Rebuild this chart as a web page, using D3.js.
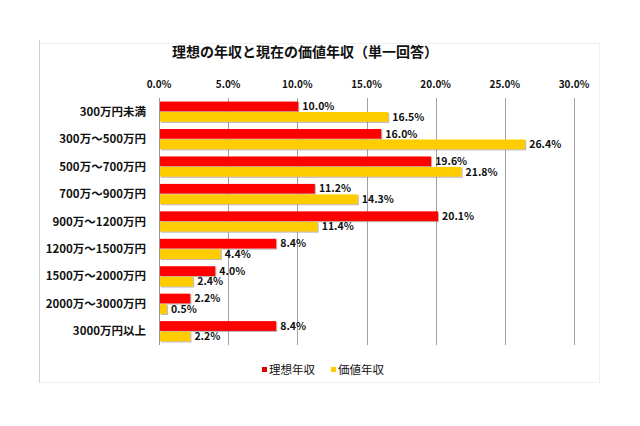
<!DOCTYPE html>
<html>
<head>
<meta charset="utf-8">
<script src="https://cdn.jsdelivr.net/npm/d3@7"></script>
<style>
  body { margin: 0; background: #fff; }
  svg { display: block; font-family: "Noto Sans CJK JP", "Noto Sans", sans-serif; }
</style>
</head>
<body>
<svg id="chart" width="640" height="426"></svg>
<script>
// income bands and the two series (percent)
const categories = ['300万円未満', '300万～500万円', '500万～700万円', '700万～900万円',
  '900万～1200万円', '1200万～1500万円', '1500万～2000万円', '2000万～3000万円', '3000万円以上'];
const idealIncome = [10.0, 16.0, 19.6, 11.2, 20.1, 8.4, 4.0, 2.2, 8.4];
const valueIncome = [16.5, 26.4, 21.8, 14.3, 11.4, 4.4, 2.4, 0.5, 2.2];
const xTicks = [0, 5, 10, 15, 20, 25, 30];
const seriesNames = ['理想年収', '価値年収'];
const colors = ['#ff0000', '#ffcc00'];

const svg = d3.select('#chart');

// frame
svg.append('rect')
   .attr('x', 39.5).attr('y', 43.5)
   .attr('width', 560).attr('height', 339)
   .attr('fill', 'none')
   .attr('stroke', '#f0f0f0');
svg.append('line')
   .attr('x1', 39.5).attr('x2', 39.5)
   .attr('y1', 40).attr('y2', 383)
   .attr('stroke', '#d0d0d0');

const defs = svg.append('defs');
defs.append('filter')
   .attr('id', 'shadow')
   .attr('x', '-5%').attr('y', '-20%')
   .attr('width', '110%').attr('height', '160%')
   .append('feDropShadow')
   .attr('dx', 1).attr('dy', 1)
   .attr('stdDeviation', 0.7)
   .attr('flood-color', '#888')
   .attr('flood-opacity', 0.6);

const x = d3.scaleLinear().domain([0, 30]).range([159, 574]);
const y = d3.scaleBand().domain(categories).range([98, 345])
   .paddingInner(0.26).paddingOuter(0.13);
const sub = d3.scaleBand().domain([0, 1]).range([0, y.bandwidth()]).paddingInner(0.06);

// title
svg.append('text')
   .attr('x', 305).attr('y', 57)
   .attr('text-anchor', 'middle')
   .attr('font-size', '14px')
   .attr('font-weight', 'bold')
   .attr('fill', '#111')
   .text('理想の年収と現在の価値年収（単一回答）');

// grid lines
svg.append('g')
   .selectAll('line')
   .data(xTicks)
   .join('line')
   .attr('x1', d => Math.round(x(d)) + 0.5)
   .attr('x2', d => Math.round(x(d)) + 0.5)
   .attr('y1', 98).attr('y2', 345)
   .attr('stroke', d => d === 0 ? '#999' : '#a0a0a0')
   .attr('stroke-width', 1);

// top tick labels
svg.append('g')
   .selectAll('text')
   .data(xTicks)
   .join('text')
   .attr('x', d => x(d))
   .attr('y', 88)
   .attr('text-anchor', 'middle')
   .attr('font-size', '10px')
   .attr('font-weight', 'bold')
   .attr('fill', '#111')
   .text(d => d.toFixed(1) + '%');

// category labels
svg.append('g')
   .selectAll('text')
   .data(categories)
   .join('text')
   .attr('x', 146)
   .attr('y', d => y(d) + y.bandwidth() / 2)
   .attr('dy', '0.35em')
   .attr('text-anchor', 'end')
   .attr('font-size', '11.5px')
   .attr('font-weight', 'bold')
   .attr('fill', '#111')
   .text(d => d);

// bars
const series = [idealIncome, valueIncome];
series.forEach((vals, s) => {
  const g = svg.append('g');
  g.selectAll('rect')
     .data(vals)
     .join('rect')
     .attr('x', x(0) + 1)
     .attr('y', (d, i) => y(categories[i]) + sub(s))
     .attr('width', d => x(d) - x(0))
     .attr('height', sub.bandwidth())
     .attr('fill', colors[s])
     .attr('filter', 'url(#shadow)');
  g.selectAll('text')
     .data(vals)
     .join('text')
     .attr('x', d => x(d) + 5)
     .attr('y', (d, i) => y(categories[i]) + sub(s) + sub.bandwidth() / 2)
     .attr('dy', '0.35em')
     .attr('font-size', '10.5px')
     .attr('font-weight', 'bold')
     .attr('fill', '#111')
     .text(d => d.toFixed(1) + '%');
});

// legend
const legendX = [262, 331];
seriesNames.forEach((name, i) => {
  svg.append('rect')
     .attr('x', legendX[i]).attr('y', 367)
     .attr('width', 5).attr('height', 5)
     .attr('fill', i === 0 ? '#dd0000' : '#ffcc00');
  svg.append('text')
     .attr('x', legendX[i] + 7).attr('y', 370)
     .attr('dy', '0.35em')
     .attr('font-size', '11.5px')
     .attr('fill', '#111')
     .text(name);
});
</script>
</body>
</html>
